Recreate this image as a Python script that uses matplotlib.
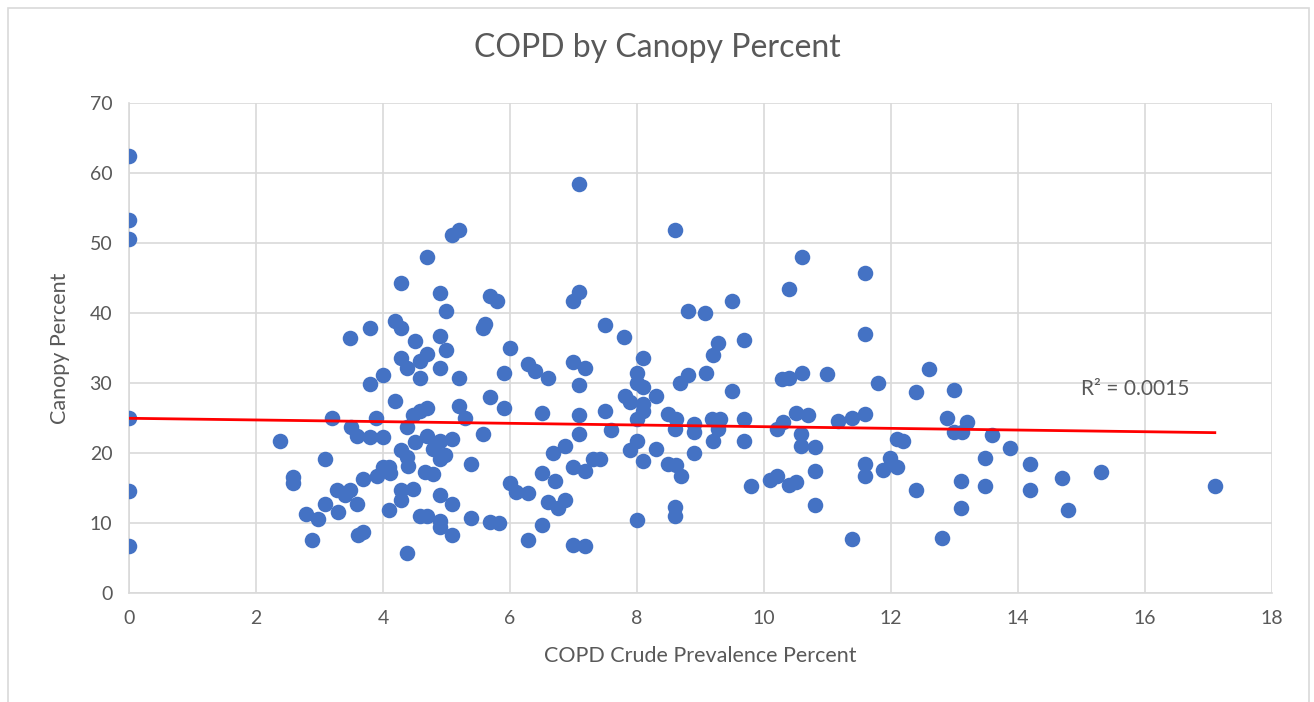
import matplotlib.pyplot as plt
import numpy as np
from matplotlib.patches import Rectangle

# COPD crude prevalence (x) vs canopy percent (y)
copd_pct = [
    0, 0, 0, 0, 0, 0,
    2.38, 2.59, 2.59, 2.79, 2.88, 2.98, 3.09, 3.09, 3.19, 3.27, 3.29, 3.40,
    3.48, 3.48, 3.49, 3.59, 3.59, 3.61, 3.69, 3.69, 3.80, 3.80, 3.80, 3.89,
    3.90, 4.00, 4.00, 4.00, 4.10, 4.11, 4.10, 4.19, 4.19, 4.29, 4.29, 4.29,
    4.29, 4.29, 4.29, 4.37, 4.37, 4.37, 4.37, 4.40,
    4.50, 4.58, 4.58, 4.69, 4.69, 4.89, 4.89, 4.89, 4.99, 4.99, 5.08, 5.19,
    5.19, 5.19, 4.69, 4.58, 4.48, 5.29, 4.69, 5.08, 4.50, 4.89, 4.79, 4.98,
    4.89, 5.39, 4.66, 4.79, 4.48, 4.89, 5.08, 4.58, 4.69, 4.89, 4.89, 5.39,
    5.08,
    5.60, 5.58, 5.69, 5.79, 5.90, 6.00, 6.29, 6.39, 6.60, 5.69, 5.90, 6.50,
    5.58, 6.68, 6.50, 6.71, 6.00, 6.10, 6.29, 6.60, 6.75, 5.69, 5.82, 6.50,
    6.29, 6.87, 6.87,
    7.09, 8.60, 7.09, 6.99, 7.49, 7.80, 8.80, 9.07, 6.99, 8.10, 7.18, 7.09,
    8.00, 8.00, 8.10, 7.81, 7.89, 8.30, 8.68, 8.81, 9.08, 8.10, 8.10, 7.49,
    7.09, 8.49, 8.62, 8.89, 8.00, 8.60, 7.59, 7.09, 8.89, 8.00, 7.89, 8.30,
    8.89, 7.31, 7.42, 8.10, 6.99, 7.18, 8.49, 8.62, 8.70, 8.60, 8.60, 8.00,
    6.99, 7.18,
    10.60, 10.39, 9.49, 9.69, 9.28, 9.19, 9.49, 10.29, 10.39, 10.60, 11.00,
    9.18, 9.31, 9.28, 9.69, 9.19, 9.69, 10.30, 10.20, 10.50, 10.70, 10.59,
    10.59, 10.80, 11.17, 11.38, 9.79, 10.09, 10.20, 10.40, 10.51, 10.80,
    10.80, 11.38,
    11.59, 11.59, 12.60, 11.80, 12.39, 13.00, 11.59, 12.89, 13.20, 13.00,
    13.12, 13.59, 12.09, 12.19, 13.87, 13.48, 11.98, 11.59, 12.09, 11.88,
    11.59, 12.39, 13.10, 13.48, 13.10, 12.80,
    14.19, 14.19, 14.69, 14.79, 15.31, 17.10,
]
canopy_pct = [
    62.5, 53.3, 50.6, 25.1, 14.6, 6.8,
    21.8, 16.6, 15.7, 11.4, 7.6, 10.6, 19.2, 12.8, 25.1, 14.7, 11.6, 14.0,
    36.4, 14.7, 23.7, 22.4, 12.8, 8.3, 16.3, 8.8, 37.9, 29.9, 22.3, 25.1,
    16.8, 31.2, 22.3, 18.0, 18.0, 17.2, 11.9, 38.9, 27.5, 44.3, 37.9, 33.6,
    20.4, 14.8, 13.4, 32.2, 23.7, 19.4, 5.7, 18.2,
    36.0, 33.2, 30.7, 48.1, 34.2, 42.9, 36.8, 32.2, 40.3, 34.7, 51.2, 51.9,
    30.8, 26.8, 26.5, 26.1, 25.4, 25.1, 22.5, 22.1, 21.6, 21.8, 20.6, 19.7,
    19.2, 18.5, 17.3, 17.1, 14.9, 14.0, 12.8, 11.0, 11.1, 10.4, 9.5, 10.8,
    8.3,
    38.4, 37.9, 42.4, 41.7, 31.5, 35.0, 32.7, 31.8, 30.7, 28.0, 26.5, 25.8,
    22.8, 20.1, 17.2, 16.1, 15.7, 14.5, 14.3, 13.0, 12.2, 10.2, 10.0, 9.7,
    7.6, 21.1, 13.3,
    58.4, 51.9, 43.1, 41.8, 38.3, 36.6, 40.3, 40.0, 33.0, 33.6, 32.2, 29.7,
    31.5, 30.1, 29.4, 28.2, 27.3, 28.2, 30.1, 31.2, 31.5, 27.0, 26.1, 26.1,
    25.5, 25.6, 24.9, 24.2, 24.9, 23.5, 23.3, 22.8, 23.0, 21.8, 20.4, 20.6,
    20.1, 19.2, 19.2, 18.9, 18.1, 17.4, 18.5, 18.3, 16.7, 12.3, 11.1, 10.5,
    6.9, 6.7,
    48.1, 43.4, 41.7, 36.2, 35.8, 34.0, 28.9, 30.6, 30.8, 31.5, 31.3,
    24.9, 24.9, 23.5, 24.9, 21.8, 21.8, 24.5, 23.5, 25.7, 25.4, 22.8,
    21.1, 20.9, 24.6, 25.1, 15.3, 16.2, 16.8, 15.5, 15.9, 17.4,
    12.6, 7.8,
    45.8, 37.1, 32.0, 30.1, 28.7, 29.1, 25.6, 25.1, 24.4, 23.0,
    23.0, 22.6, 22.0, 21.7, 20.8, 19.3, 19.3, 18.5, 18.0, 17.6,
    16.7, 14.8, 16.1, 15.3, 12.2, 7.9,
    18.5, 14.8, 16.4, 11.9, 17.3, 15.4,
]

# linear trendline as shown in the reference (Excel's fit on the full data)
trend_intercept = 25.0
trend_slope = -0.12
r_squared = 0.0015

x_ticks = list(range(0, 20, 2))
y_ticks = list(range(0, 80, 10))

GRAY_TEXT = "#595959"
GRID = "#D9D9D9"
plt.rcParams["font.family"] = ["Lato", "DejaVu Sans"]

fig = plt.figure(figsize=(13.14, 7.02), dpi=100)
ax = fig.add_axes([0.0982, 0.1548, 0.8698, 0.6982])

ax.scatter(copd_pct, canopy_pct, s=125, color="#4472C4", zorder=3, linewidths=0)

xs = np.array([0, max(copd_pct)])
ax.plot(xs, trend_intercept + trend_slope * xs, color="#FF0000", lw=2, zorder=4)
ax.text(15.0, 29.2, f"R² = {r_squared}", fontsize=15, color=GRAY_TEXT,
        va="center", ha="left")

ax.set_xlim(0, 18)
ax.set_ylim(0, 70)
ax.set_xticks(x_ticks)
ax.set_yticks(y_ticks)
ax.grid(True, color=GRID, lw=1.2, zorder=0)
ax.set_axisbelow(True)
for side in ["top", "right"]:
    ax.spines[side].set_visible(False)
for side in ["left", "bottom"]:
    ax.spines[side].set_color(GRID)
    ax.spines[side].set_linewidth(1.2)
ax.tick_params(length=0, labelsize=14, labelcolor=GRAY_TEXT, pad=12)

ax.set_xlabel("COPD Crude Prevalence Percent", fontsize=15.5, color=GRAY_TEXT,
              labelpad=14)
ax.set_ylabel("Canopy Percent", fontsize=15.5, color=GRAY_TEXT, labelpad=14)
fig.text(0.5, 0.931, "COPD by Canopy Percent", fontsize=23, color=GRAY_TEXT,
         ha="center", va="center")

# outer chart border
fig.patches.append(Rectangle((0.006, -0.01), 0.99, 0.998, transform=fig.transFigure,
                             fill=False, edgecolor=GRID, lw=1.2))

fig.savefig("out.png", dpi=100)
